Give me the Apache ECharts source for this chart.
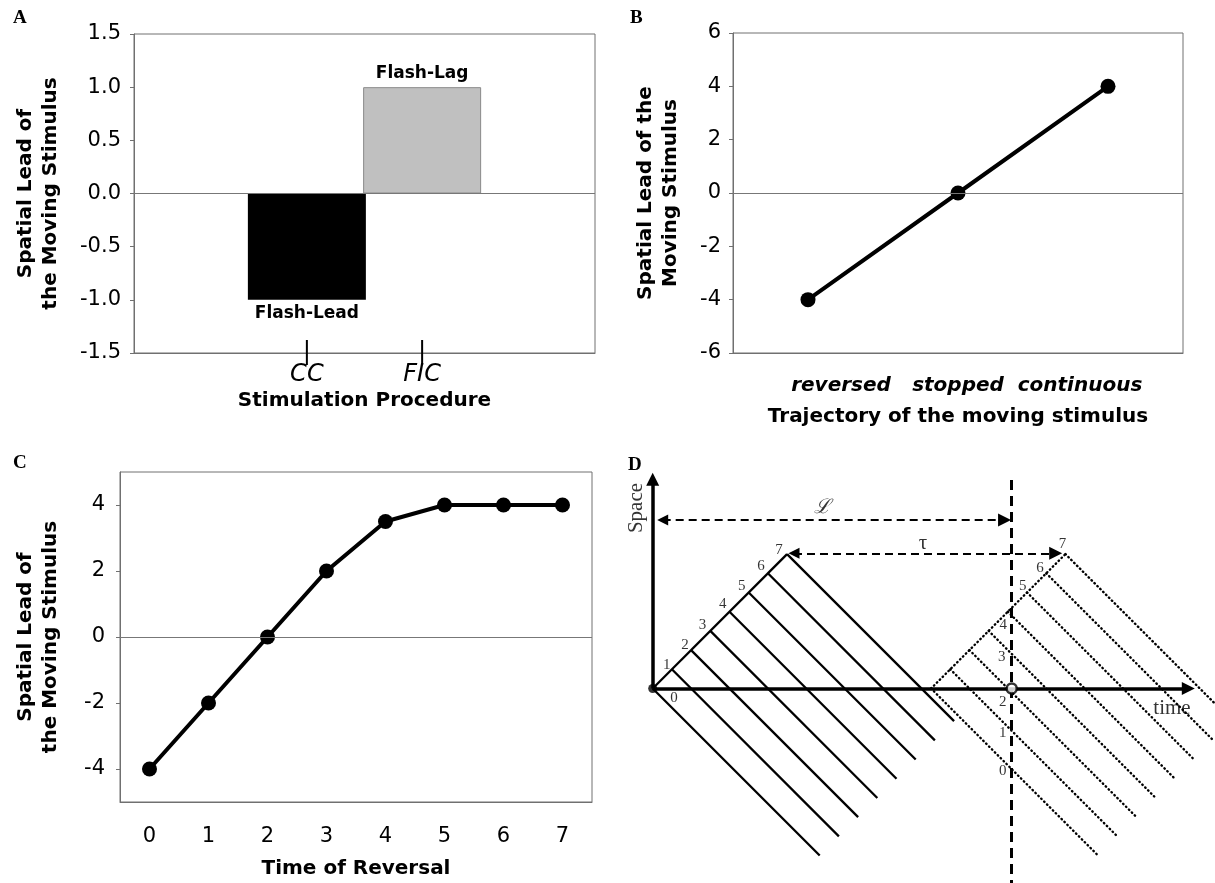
<!DOCTYPE html>
<html>
<head>
<meta charset="utf-8">
<title>Spatial lead of the moving stimulus</title>
<script src="https://cdn.jsdelivr.net/npm/echarts@6/dist/echarts.min.js"></script>
<style>
html,body{margin:0;padding:0;background:#fff;}
#chart{width:1215px;height:883px;}
</style>
</head>
<body>
<div id="chart"></div>
<script>
// A: stimulation procedure bars
const procedures = ['', 'CC', 'FIC', ''];
const flashLead = [null, -1, null, null];
const flashLag = [null, null, 1, null];
const procedureMarks = ['CC', 'FIC'];

// B: trajectory of the moving stimulus
const trajectories = ['reversed', 'stopped', 'continuous'];
const trajectoryLead = [-4, 0, 4];

// C: time of reversal
const reversalTimes = ['0', '1', '2', '3', '4', '5', '6', '7'];
const reversalLead = [-4, -2, 0, 2, 3.5, 4, 4, 4];
const leadTicksC = [-4, -2, 0, 2, 4];

// D: space-time diagram (diagram units)
const spaceAxis = [[0, 0], [0, 10.9]];
const timeAxis = [[0, 0], [27.9, 0]];
const solidRise = [[0, 0], [7, 7]];
const solidStarts = [[0, 0], [1, 1], [2, 2], [3, 3], [4, 4], [5, 5], [6, 6], [7, 7]];
const solidEnds = [[8.7, -8.7], [9.7, -7.7], [10.7, -6.7], [11.7, -5.7], [12.7, -4.7], [13.7, -3.7], [14.7, -2.7], [15.7, -1.7]];
const dottedRise = [[14.5, 0], [21.5, 7]];
const dottedStarts = [[14.5, 0], [15.5, 1], [16.5, 2], [17.5, 3], [18.5, 4], [19.5, 5], [20.5, 6], [21.5, 7]];
const dottedEnds = [[23.2, -8.7], [24.2, -7.7], [25.2, -6.7], [26.2, -5.7], [27.2, -4.7], [28.2, -3.7], [29.2, -2.7], [30.2, -1.7]];
const reversalLine = [[18.7, 10.86], [18.7, -10.13]];
const lArrow = [[0.52, 8.78], [18.33, 8.78]];
const tauArrow = [[7.36, 7.04], [20.99, 7.04]];
const openPoint = [18.7, 0];
const pointLabels = ['0', '1', '2', '3', '4', '5', '6', '7'];
const solidLabelPos = [[1.11, -0.49], [0.73, 1.22], [1.68, 2.27], [2.6, 3.31], [3.65, 4.39], [4.64, 5.35], [5.64, 6.38], [6.58, 7.21]];
const dottedLabelPos = [[18.23, -4.28], [18.23, -2.32], [18.23, -0.69], [18.18, 1.66], [18.26, 3.31], [19.27, 5.35], [20.17, 6.26], [21.35, 7.51]];
const diagramNotes = ['ℒ', 'τ', 'time', 'Space'];
const diagramNotePos = [[8.87, 9.4], [14.08, 7.53], [27.05, -1.02], [-0.82, 9.4]];

const chart = echarts.init(document.getElementById('chart'));

const gray = '#707070';
const sans = 'DejaVu Sans';
const serif = 'Liberation Serif';
const nameStyle = {fontFamily: sans, fontWeight: 'bold', fontSize: 20, color: '#000', lineHeight: 25};
const tickLabel = {fontFamily: sans, fontSize: 21, color: '#000'};

function valueAxis(grid, min, max, step, gap, name) {
    return {
        gridIndex: grid, type: 'value', min: min, max: max, interval: step,
        axisLine: {show: true, lineStyle: {color: gray}},
        axisTick: {show: true, length: 4, lineStyle: {color: gray}},
        splitLine: {show: false},
        axisLabel: Object.assign({margin: 13}, tickLabel),
        name: name, nameLocation: 'middle', nameGap: gap, nameTextStyle: nameStyle
    };
}

function zeroLine() {
    return {silent: true, symbol: 'none', label: {show: false}, animation: false,
        lineStyle: {color: '#777', width: 1, type: 'solid'}, data: [{yAxis: 0}]};
}

function segments(starts, ends) {
    return starts.map((s, i) => ({coords: [s, ends[i]]}));
}

function diagramLines(data, style, symbol) {
    return {
        type: 'lines', coordinateSystem: 'cartesian2d', xAxisIndex: 3, yAxisIndex: 3,
        data: data, polyline: false, silent: true,
        symbol: symbol || 'none', symbolSize: [11, 13],
        lineStyle: Object.assign({color: '#000', opacity: 1, curveness: 0}, style)
    };
}

const yA = valueAxis(0, -1.5, 1.5, 0.5, 71, 'Spatial Lead of\nthe Moving Stimulus');
yA.axisLabel.formatter = v => v.toFixed(1);
const yB = valueAxis(1, -6, 6, 2, 50, 'Spatial Lead of the\nMoving Stimulus');
yB.axisLabel.margin = 12;
const yC = valueAxis(2, -5, 5, 1, 57, 'Spatial Lead of\nthe Moving Stimulus');
yC.axisLabel.customValues = leadTicksC;
yC.axisLabel.margin = 15;
yC.axisTick.customValues = leadTicksC;

const trajStyle = {fontFamily: sans, fontSize: 20, fontWeight: 'bold', fontStyle: 'italic', color: '#000'};
const dots = {width: 2.4, type: [0.5, 3.6], cap: 'round'};

chart.setOption({
    animation: false,
    backgroundColor: '#fff',
    title: [
        {text: 'A', left: 13, top: 9},
        {text: 'B', left: 630, top: 9},
        {text: 'C', left: 13, top: 454},
        {text: 'D', left: 628, top: 456}
    ].map(t => Object.assign(t, {padding: 0, textStyle: {fontFamily: serif, fontWeight: 'bold', fontSize: 19, color: '#000'}})),
    grid: [
        {left: 134, top: 34, width: 461, height: 319, show: true, borderColor: gray, borderWidth: 1},
        {left: 733, top: 33, width: 450, height: 320, show: true, borderColor: gray, borderWidth: 1},
        {left: 120, top: 472, width: 472, height: 330, show: true, borderColor: gray, borderWidth: 1},
        {left: 614.3, top: 460, right: 0, bottom: 0}
    ],
    xAxis: [
        {
            gridIndex: 0, type: 'category', data: procedures, position: 'bottom',
            axisLine: {onZero: false, lineStyle: {color: gray}},
            axisTick: {interval: (i) => i === 2, length: 4, lineStyle: {color: gray}},
            axisLabel: {interval: 0, margin: 10, fontFamily: sans, fontStyle: 'italic', fontSize: 24, color: '#000'},
            name: 'Stimulation Procedure', nameLocation: 'middle', nameGap: 35, nameTextStyle: nameStyle
        },
        {
            gridIndex: 1, type: 'category', data: trajectories, position: 'bottom',
            axisLine: {onZero: false, lineStyle: {color: gray}},
            axisTick: {alignWithLabel: true, length: 5, lineStyle: {color: gray}},
            axisLabel: {
                interval: 0, margin: 23,
                formatter: (v, i) => '{' + ['r', 's', 'c'][i] + '|' + v + '}',
                rich: {
                    r: Object.assign({padding: [0, 0, 0, 66]}, trajStyle),
                    s: Object.assign({}, trajStyle),
                    c: Object.assign({padding: [0, 56, 0, 0]}, trajStyle)
                }
            },
            name: 'Trajectory of the moving stimulus', nameLocation: 'middle', nameGap: 51, nameTextStyle: nameStyle
        },
        {
            gridIndex: 2, type: 'category', data: reversalTimes, position: 'bottom',
            axisLine: {onZero: false, lineStyle: {color: gray}},
            axisTick: {alignWithLabel: true, length: 5, lineStyle: {color: gray}},
            axisLabel: Object.assign({interval: 0, margin: 24}, tickLabel),
            name: 'Time of Reversal', nameLocation: 'middle', nameGap: 54, nameTextStyle: nameStyle
        },
        {gridIndex: 3, type: 'value', min: -2, max: 29.29, show: false}
    ],
    yAxis: [
        yA, yB, yC,
        {gridIndex: 3, type: 'value', min: -10.13, max: 11.9, show: false}
    ],
    series: [
        {
            type: 'bar', name: 'Flash-Lead', xAxisIndex: 0, yAxisIndex: 0, data: flashLead,
            barWidth: 118, barGap: '-100%', itemStyle: {color: '#000'},
            label: {show: true, position: 'bottom', distance: 5, formatter: '{a}', fontFamily: sans, fontWeight: 'bold', fontSize: 17, color: '#000'},
            markLine: zeroLine()
        },
        {
            type: 'bar', name: 'Flash-Lag', xAxisIndex: 0, yAxisIndex: 0, data: flashLag,
            barWidth: 118, barGap: '-100%', itemStyle: {color: '#c0c0c0', borderColor: '#8a8a8a', borderWidth: 1},
            label: {show: true, position: 'top', distance: 5, formatter: '{a}', fontFamily: sans, fontWeight: 'bold', fontSize: 17, color: '#000'}
        },
        {
            // long marks crossing the category axis under CC and FIC
            type: 'custom', xAxisIndex: 0, yAxisIndex: 0, silent: true, clip: false,
            data: procedureMarks.map(c => [c, -1.5]),
            renderItem: (params, api) => {
                const p = api.coord([api.value(0), api.value(1)]);
                return {type: 'line', shape: {x1: p[0], y1: p[1] - 13, x2: p[0], y2: p[1] + 12},
                    style: {stroke: '#000', lineWidth: 2}};
            }
        },
        {
            type: 'line', xAxisIndex: 1, yAxisIndex: 1, data: trajectoryLead,
            symbol: 'circle', symbolSize: 15, lineStyle: {color: '#000', width: 4}, itemStyle: {color: '#000'},
            markLine: zeroLine()
        },
        {
            type: 'line', xAxisIndex: 2, yAxisIndex: 2, data: reversalLead,
            symbol: 'circle', symbolSize: 15, lineStyle: {color: '#000', width: 4}, itemStyle: {color: '#000'},
            markLine: zeroLine()
        },
        diagramLines(segments(solidStarts, solidEnds), {width: 2.3}),
        diagramLines([{coords: solidRise}], {width: 2.3}),
        diagramLines(segments(dottedStarts, dottedEnds), dots),
        diagramLines([{coords: dottedRise}], dots),
        diagramLines([{coords: reversalLine}], {width: 3, type: [10, 6]}),
        diagramLines([{coords: lArrow}, {coords: tauArrow}], {width: 2.2, type: [8, 5]}, ['triangle', 'triangle']),
        diagramLines([{coords: spaceAxis}, {coords: timeAxis}], {width: 3.5}, ['none', 'triangle']),
        {
            type: 'scatter', xAxisIndex: 3, yAxisIndex: 3, silent: true,
            data: [[0, 0]], symbolSize: 9, itemStyle: {color: '#000'}, z: 4
        },
        {
            type: 'scatter', xAxisIndex: 3, yAxisIndex: 3, silent: true,
            data: [openPoint], symbolSize: 10, itemStyle: {color: '#fff', borderColor: '#000', borderWidth: 2.5}, z: 5
        },
        {
            type: 'scatter', xAxisIndex: 3, yAxisIndex: 3, silent: true, symbolSize: 1,
            itemStyle: {color: 'transparent'},
            data: solidLabelPos.map((p, i) => ({value: p, name: pointLabels[i]}))
                .concat(dottedLabelPos.map((p, i) => ({value: p, name: pointLabels[i]}))),
            label: {show: true, position: 'inside', formatter: '{b}', fontFamily: serif, fontSize: 15, color: '#000'}
        },
        {
            type: 'scatter', xAxisIndex: 3, yAxisIndex: 3, silent: true, symbolSize: 1,
            itemStyle: {color: 'transparent'},
            data: diagramNotes.map((n, i) => ({
                value: diagramNotePos[i], name: n,
                label: n === 'Space' ? {rotate: 90} : (n === 'ℒ' ? {fontFamily: 'DejaVu Serif', fontStyle: 'italic', fontSize: 20} : {})
            })),
            label: {show: true, position: 'inside', formatter: '{b}', fontFamily: serif, fontSize: 21, color: '#000'}
        }
    ]
});
</script>
</body>
</html>
